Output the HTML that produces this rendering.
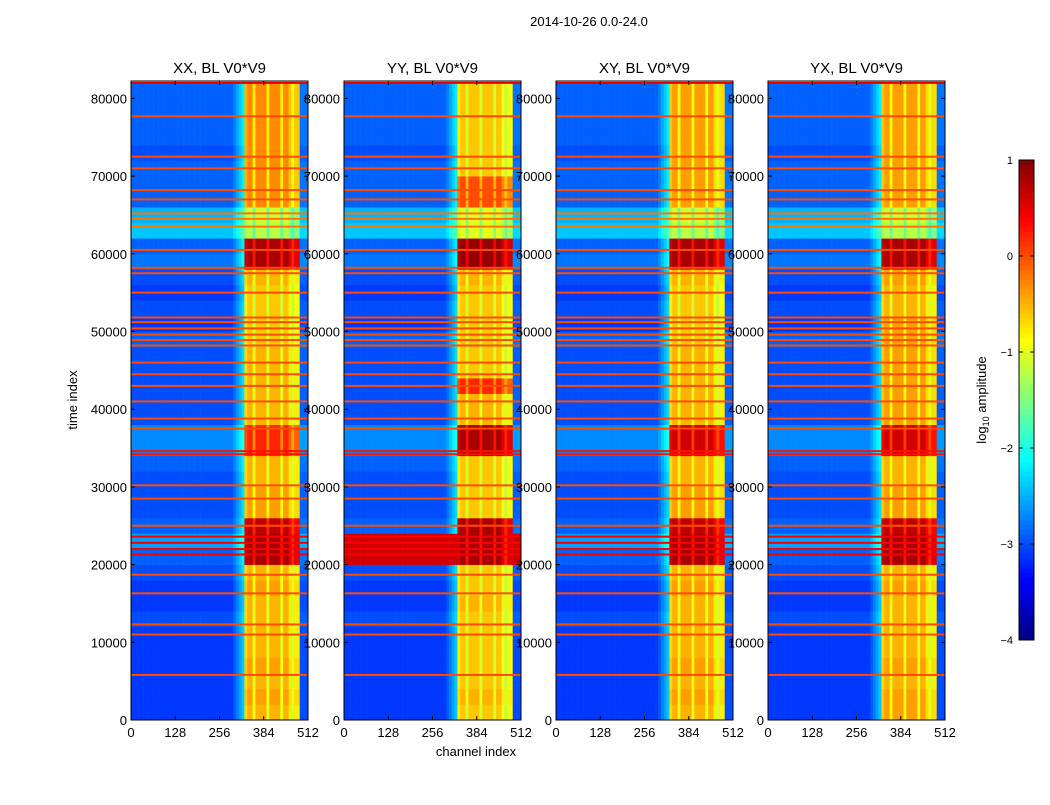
<!DOCTYPE html>
<html><head><meta charset="utf-8"><style>
body{margin:0;background:#fff;width:1050px;height:800px;overflow:hidden;font-family:"Liberation Sans",sans-serif}
svg text{font-family:"Liberation Sans",sans-serif}
</style></head><body>
<svg id="s" width="1050" height="800">
<text x="589" y="26" font-size="13" text-anchor="middle">2014-10-26 0.0-24.0</text>
<text x="476" y="756" font-size="13" text-anchor="middle">channel index</text>
<text x="77" y="400" font-size="13" text-anchor="middle" transform="rotate(-90 77 400)">time index</text>
<g id="cb"></g>
</svg>
<script>
const panelNames=["XX, BL V0*V9","YY, BL V0*V9","XY, BL V0*V9","YX, BL V0*V9"];
const panelX=[131,344,556,768];
const xTicks=[0,128,256,384,512];
const yTicks=[0,10000,20000,30000,40000,50000,60000,70000,80000];
const cbTicks=[1,0,-1,-2,-3,-4];
// bright-region level per 2000-sample time bin (41 bins), per panel
const brightXX=[-0.5,-0.4,-0.5,-0.4,-0.5,-0.5,-0.5,-0.5,-0.4,-0.5,0.8,0.8,0.7,-0.4,-0.4,-0.5,-0.5,0.2,0.2,-0.5,-0.5,-0.5,-0.5,-0.5,-0.6,-0.6,-0.6,-0.6,-0.5,0.8,0.8,-1.2,-1.1,-0.3,-0.3,-0.3,-0.3,-0.3,-0.3,-0.3,-0.3];
const brightYY=[-0.6,-0.5,-0.6,-0.6,-0.6,-0.6,-0.6,-0.5,-0.6,-0.6,0.8,0.8,0.8,-0.6,-0.6,-0.6,-0.6,0.8,0.8,-0.5,-0.5,0.2,-0.6,-0.6,-0.6,-0.6,-0.6,-0.6,-0.5,0.9,0.9,-1.0,-1.0,0.0,0.0,-0.6,-0.6,-0.6,-0.6,-0.6,-0.6];
const brightXY=[-0.5,-0.4,-0.5,-0.4,-0.5,-0.5,-0.5,-0.5,-0.4,-0.5,0.8,0.8,0.7,-0.4,-0.4,-0.5,-0.5,0.6,0.6,-0.5,-0.5,-0.5,-0.5,-0.5,-0.6,-0.6,-0.6,-0.6,-0.5,0.8,0.8,-1.2,-1.1,-0.4,-0.4,-0.4,-0.4,-0.4,-0.4,-0.4,-0.4];
const brightYX=[-0.4,-0.4,-0.5,-0.4,-0.5,-0.5,-0.5,-0.5,-0.4,-0.5,0.8,0.8,0.7,-0.4,-0.4,-0.5,-0.5,0.6,0.6,-0.4,-0.4,-0.4,-0.4,-0.4,-0.4,-0.4,-0.5,-0.5,-0.4,0.8,0.8,-1.2,-1.1,-0.4,-0.4,-0.4,-0.4,-0.4,-0.4,-0.4,-0.4];
const brightLevels=[brightXX,brightYY,brightXY,brightYX];
// background level per 2000-sample time bin
const bgLevel=[-3.1,-3.1,-3.1,-3.1,-3.1,-3.1,-3.0,-3.1,-3.1,-3.0,-2.9,-2.6,-2.9,-3.0,-3.0,-3.0,-2.9,-2.7,-2.7,-3.0,-3.0,-3.0,-3.0,-3.0,-2.9,-3.1,-3.0,-3.1,-3.0,-2.8,-2.9,-2.4,-2.5,-2.9,-2.9,-2.9,-3.0,-2.9,-2.9,-2.9,-2.9];
// channel profile in 8-channel bins (64 bins); offsets within bright region (bins 41..61)
const brightMask=[41,61];
const brightProfile=[-0.2,0,0,-0.5,0,0,0,0,-0.5,0,0,0,0,-0.5,0,0,-0.3,-0.6,-0.3,-0.3];
// full-width RFI lines (time index, level)
const rfiTimes=[5800,11000,12300,16300,18700,21300,22000,22800,23600,25000,28500,30200,34200,34600,37500,38800,41000,43000,44500,46000,48200,48900,49600,50400,51200,51800,55000,57500,58200,60500,63500,64500,65200,67000,68200,71000,72500,77700,82000];
const rfiLevels=[0,0,0,0,0,0.4,0.4,0.4,0.4,0,0,0,0.3,0.3,0,0,0,0,0,0,0,0,0,0,0,0,0,0,0,0,-0.2,-0.2,-0.2,0,0,0,0,0,0.5];

const NS="http://www.w3.org/2000/svg";
const svg=document.getElementById('s');
const top0=81,bot=720,pw=177,tMax=82240;
const yS=t=>bot-(t/tMax)*(bot-top0);
function jet(v){let x=Math.max(0,Math.min(1,(v+4)/5));
 const c=t=>Math.round(255*Math.max(0,Math.min(1,1.5-Math.abs(4*x-t))));
 return `rgb(${c(3)},${c(2)},${c(1)})`;}
function el(tag,a,p){const e=document.createElementNS(NS,tag);for(const k in a)e.setAttribute(k,a[k]);(p||svg).appendChild(e);return e;}
panelX.forEach((px,pi)=>{
 const xS=c=>px+c/512*pw;
 const g=el('g',{});
 
 
 const bl=brightLevels[pi];
 for(let r=0;r<bl.length;r++){
  const t0=r*2000,t1=Math.min(tMax,(r+1)*2000);
  const y1=yS(t1),h=yS(t0)-y1;
  for(let b=0;b<64;b++){
   let v;
   if(b>=brightMask[0]&&b<brightMask[1]) v=bl[r]+brightProfile[b-brightMask[0]];
   else {v=bgLevel[r]; if(b>=37&&b<41)v+=0.35*(b-36)/2; if(b>=61)v+=0.1; if(pi==1&&(r==10||r==11))v=0.6;}
   const rc=el('rect',{x:xS(b*8),y:y1,width:pw/64+0.3,height:h+0.3,fill:jet(v)},g);
   
   
  }
 }
 rfiTimes.forEach((t,i)=>{
  const rc=el('rect',{x:px,y:yS(t)-1,width:pw,height:2,fill:jet(rfiLevels[i])},g);
  
  
 });
 const fr=el('rect',{x:px,y:top0,width:pw,height:bot-top0,fill:'none',stroke:'#000','stroke-width':1});
 
 
 const tt=el('text',{x:px+pw/2,y:73,'font-size':15,'text-anchor':'middle'});
 tt.textContent=panelNames[pi];
 
 
 xTicks.forEach(c=>{
  el('line',{x1:xS(c),x2:xS(c),y1:bot,y2:bot-4,stroke:'#000'});
  el('line',{x1:xS(c),x2:xS(c),y1:top0,y2:top0+4,stroke:'#000'});
  const tx=el('text',{x:xS(c),y:737,'font-size':13,'text-anchor':'middle'});
  tx.textContent=c;
  
  
 });
 yTicks.forEach(t=>{
  el('line',{x1:px,x2:px+4,y1:yS(t),y2:yS(t),stroke:'#000'});
  el('line',{x1:px+pw,x2:px+pw-4,y1:yS(t),y2:yS(t),stroke:'#000'});
  const ty=el('text',{x:px-4,y:yS(t)+5,'font-size':13,'text-anchor':'end'});
  ty.textContent=t;
  
  
 });
});
// colorbar
const cb=document.getElementById('cb');
const cbY=v=>160+(1-v)/5*480;
for(let i=0;i<100;i++){const v=1-i*0.05;
 const rc=el('rect',{x:1019,y:cbY(v),width:15,height:5.2,fill:jet(v-0.025)},cb);
 
 }
el('rect',{x:1019,y:160,width:15,height:480,fill:'none',stroke:'#000'},cb);
cbTicks.forEach(v=>{
 el('line',{x1:1019,x2:1023,y1:cbY(v),y2:cbY(v),stroke:'#000'},cb);
 el('line',{x1:1034,x2:1030,y1:cbY(v),y2:cbY(v),stroke:'#000'},cb);
 const t=el('text',{x:1013,y:cbY(v)+4,'font-size':11,'text-anchor':'end'},cb);
 t.textContent=v<0?'\u2212'+(-v):v;
 
 
});
const lab=el('text',{x:986,y:400,'font-size':13,'text-anchor':'middle',transform:'rotate(-90 986 400)'},cb);
lab.innerHTML='log<tspan font-size="9" dy="3">10</tspan><tspan dy="-3"> amplitude</tspan>';


</script>
</body></html>
